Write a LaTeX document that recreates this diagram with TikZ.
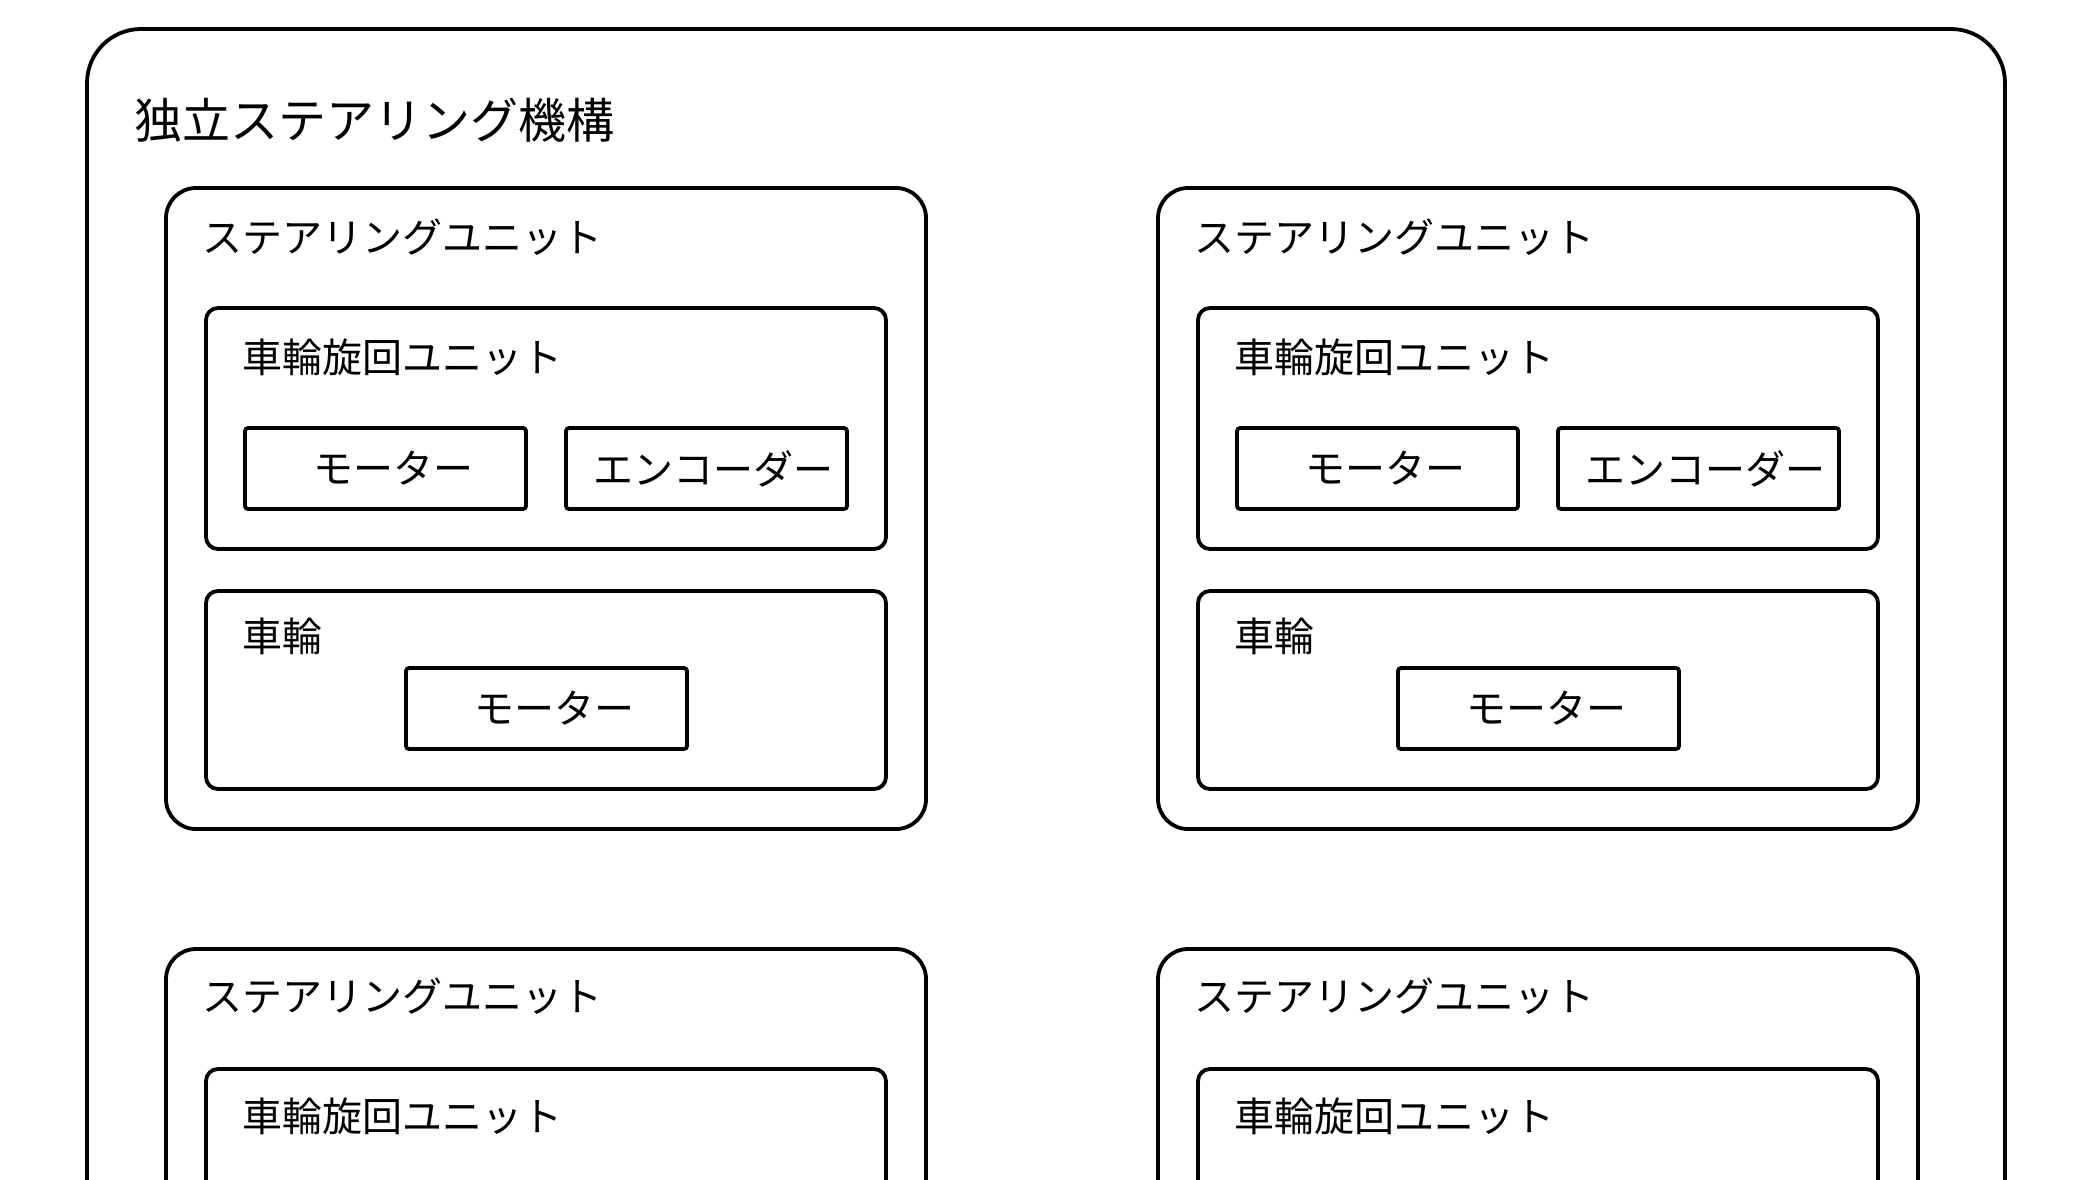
\documentclass[tikz,border=0pt]{standalone}
\usepackage{fontspec}
\setmainfont{Noto Sans CJK JP}
\begin{document}
\begin{tikzpicture}[x=0.5pt,y=-0.5pt,
  frame/.style={draw=black, line width=1.9pt, fill=none},
  outerbox/.style={frame, rounded corners=27pt, anchor=north west, inner sep=0pt, outer sep=0pt},
  unitbox/.style={frame, rounded corners=15pt, anchor=north west, inner sep=0pt, outer sep=0pt, minimum width=380pt},
  subbox/.style={frame, rounded corners=6pt, anchor=north west, inner sep=0pt, outer sep=0pt, minimum width=340pt},
  partbox/.style={frame, rounded corners=1.5pt, anchor=north west, inner sep=0pt, outer sep=0pt,
    minimum width=140.5pt, minimum height=40.5pt, font=\fontsize{20pt}{24pt}\selectfont},
  lbl/.style={anchor=west, inner sep=0pt, font=\fontsize{20pt}{24pt}\selectfont},
  titlelbl/.style={anchor=west, inner sep=0pt, font=\fontsize{24pt}{28pt}\selectfont}]
\useasboundingbox (0,0) rectangle (2096,1179);
\clip (0,0) rectangle (2096,1179);
\fill[white] (0,0) rectangle (2096,1179);

% outer frame
\node[outerbox, minimum width=959pt, minimum height=700pt] (outer) at (87,29) {};
\node[titlelbl] (title) at (134,120) {独立ステアリング機構};

% top-left steering unit
\node[unitbox, minimum height=320.5pt] (su1) at (166,188) {};
\node[lbl] (su1l) at (202,237) {ステアリングユニット};
\node[subbox, minimum height=120.5pt] (rot1) at (206,308) {};
\node[lbl] (rot1l) at (242,357) {車輪旋回ユニット};
\node[partbox] (m1) at (245,428) {\kern8pt モーター};
\node[partbox] (e1) at (566,428) {\kern7pt エンコーダー};
\node[subbox, minimum height=99pt] (wh1) at (206,591) {};
\node[lbl] (wh1l) at (242,636) {車輪};
\node[partbox] (wm1) at (406,668) {\kern8pt モーター};

% top-right steering unit
\node[unitbox, minimum height=320.5pt] (su2) at (1158,188) {};
\node[lbl] (su2l) at (1194,237) {ステアリングユニット};
\node[subbox, minimum height=120.5pt] (rot2) at (1198,308) {};
\node[lbl] (rot2l) at (1234,357) {車輪旋回ユニット};
\node[partbox] (m2) at (1237,428) {\kern8pt モーター};
\node[partbox] (e2) at (1558,428) {\kern7pt エンコーダー};
\node[subbox, minimum height=99pt] (wh2) at (1198,591) {};
\node[lbl] (wh2l) at (1234,636) {車輪};
\node[partbox] (wm2) at (1398,668) {\kern8pt モーター};

% bottom-left steering unit (cut off)
\node[unitbox, minimum height=320.5pt] (su3) at (166,949) {};
\node[lbl] (su3l) at (202,996) {ステアリングユニット};
\node[subbox, minimum height=120.5pt] (rot3) at (206,1069) {};
\node[lbl] (rot3l) at (242,1116) {車輪旋回ユニット};

% bottom-right steering unit (cut off)
\node[unitbox, minimum height=320.5pt] (su4) at (1158,949) {};
\node[lbl] (su4l) at (1194,996) {ステアリングユニット};
\node[subbox, minimum height=120.5pt] (rot4) at (1198,1069) {};
\node[lbl] (rot4l) at (1234,1116) {車輪旋回ユニット};
\end{tikzpicture}
\end{document}
